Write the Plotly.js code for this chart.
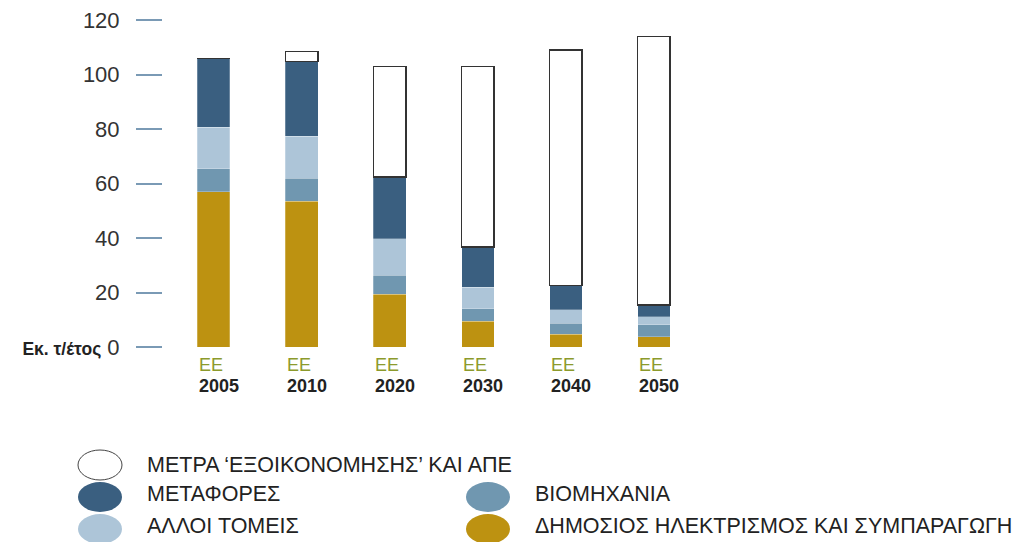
<!DOCTYPE html>
<html>
<head>
<meta charset="utf-8">
<script src="https://cdn.plot.ly/plotly-3.0.1.min.js"></script>
<style>html,body{margin:0;padding:0;background:#fff;}#chart{width:1014px;height:542px;}</style>
</head>
<body>
<div id="chart"></div>
<script>
// ---- data ----
var years = ['2005', '2010', '2020', '2030', '2040', '2050'];
var regionLabel = 'ΕΕ';
var power     = [57.0, 53.5, 19.4, 9.4, 4.6, 3.8];   // ΔΗΜΟΣΙΟΣ ΗΛΕΚΤΡΙΣΜΟΣ ΚΑΙ ΣΥΜΠΑΡΑΓΩΓΗ
var industry  = [8.4, 8.5, 6.9, 4.7, 4.2, 4.4];      // ΒΙΟΜΗΧΑΝΙΑ
var otherSect = [15.2, 15.4, 13.4, 7.9, 4.9, 2.9];   // ΑΛΛΟΙ ΤΟΜΕΙΣ
var transport = [25.3, 27.4, 22.7, 14.7, 8.8, 4.3];  // ΜΕΤΑΦΟΡΕΣ
var savings   = [0, 3.7, 40.5, 66.2, 86.5, 98.5];    // ΜΕΤΡΑ ‘ΕΞΟΙΚΟΝΟΜΗΣΗΣ’ ΚΑΙ ΑΠΕ
var tickVals  = [0, 20, 40, 60, 80, 100, 120];
var unitLabel = 'Εκ. τ/έτος';
var seriesNames = ['ΔΗΜΟΣΙΟΣ ΗΛΕΚΤΡΙΣΜΟΣ ΚΑΙ ΣΥΜΠΑΡΑΓΩΓΗ', 'ΒΙΟΜΗΧΑΝΙΑ', 'ΑΛΛΟΙ ΤΟΜΕΙΣ', 'ΜΕΤΑΦΟΡΕΣ', 'ΜΕΤΡΑ ‘ΕΞΟΙΚΟΝΟΜΗΣΗΣ’ ΚΑΙ ΑΠΕ'];

// ---- styles ----
var colors = ['#bd9211', '#7097b0', '#adc5d8', '#3a5f80', '#ffffff'];
var W = 1014, H = 542, L = 163, R = 316, T = 20, B = 195;
var PW = W - L - R, PH = H - T - B;
function px(x) { return (x - L) / PW; }
function py(y) { return (H - B - y) / PH; }

var seriesVals = [power, industry, otherSect, transport, savings];
var traces = seriesVals.map(function (vals, i) {
  var isWhite = i === 4;
  return {
    type: 'bar', x: years, y: vals, name: seriesNames[i],
    width: 0.37,
    marker: { color: colors[i], line: { color: isWhite ? '#333333' : 'rgba(255,255,255,0.5)', width: isWhite ? 1.6 : 0.5 } },
    hoverinfo: 'skip', showlegend: false
  };
});

var tickText = tickVals.map(function (v) {
  return v === 0 ? "<span style='font-size:17.5px;font-weight:bold;color:#222'>" + unitLabel + "</span> 0" : String(v);
});

var annotations = [];
years.forEach(function (yr, i) {
  annotations.push({ x: i, y: 0, xref: 'x', yref: 'y', xanchor: 'left', yanchor: 'middle', xshift: -17, yshift: -18,
    text: regionLabel, showarrow: false, font: { family: 'Liberation Sans, Arial, sans-serif', size: 18, color: '#8c9a2c' } });
  annotations.push({ x: i, y: 0, xref: 'x', yref: 'y', xanchor: 'left', yanchor: 'middle', xshift: -17, yshift: -39,
    text: '<b>' + yr + '</b>', showarrow: false, font: { family: 'Liberation Sans, Arial, sans-serif', size: 18, color: '#222' } });
});

// legend (manual)
var legendItems = [
  { idx: 4, cx: 100, cy: 465 },
  { idx: 3, cx: 100, cy: 497 },
  { idx: 2, cx: 100, cy: 529 },
  { idx: 1, cx: 488, cy: 497 },
  { idx: 0, cx: 488, cy: 529 }
];
var shapes = [];
legendItems.forEach(function (it) {
  shapes.push({ type: 'circle', xref: 'paper', yref: 'paper', xsizemode: 'pixel', ysizemode: 'pixel',
    xanchor: px(it.cx), yanchor: py(it.cy), x0: -22, x1: 22, y0: -15, y1: 15,
    fillcolor: colors[it.idx], line: { color: it.idx === 4 ? '#444' : colors[it.idx], width: it.idx === 4 ? 1 : 0 } });
  annotations.push({ x: px(it.cx + 45), y: py(it.idx === 4 ? it.cy : it.cy - 3), xref: 'paper', yref: 'paper', xanchor: 'left', yanchor: 'middle',
    text: seriesNames[it.idx], showarrow: false,
    font: { family: 'Liberation Sans, Arial, sans-serif', size: 21.5, color: '#222' } });
});

var layout = {
  width: W, height: H,
  margin: { l: L, r: R, t: T, b: B, pad: 0 },
  paper_bgcolor: '#ffffff', plot_bgcolor: '#ffffff',
  barmode: 'stack', bargap: 0.63,
  showlegend: false,
  xaxis: { type: 'category', range: [-0.575, 5.5], showticklabels: false, ticks: '', showgrid: false, zeroline: false, showline: false, fixedrange: true },
  yaxis: { range: [0, 120], tickvals: tickVals, ticktext: tickText, ticks: 'outside', ticklen: 26, tickwidth: 2, tickcolor: '#7a9ab5',
    ticklabelstandoff: 12, showgrid: false, zeroline: false, showline: false,
    tickfont: { family: 'Liberation Sans, Arial, sans-serif', size: 22, color: '#333' }, fixedrange: true },
  shapes: shapes,
  annotations: annotations
};

Plotly.newPlot('chart', traces, layout, { displayModeBar: false, staticPlot: true });
</script>
</body>
</html>
